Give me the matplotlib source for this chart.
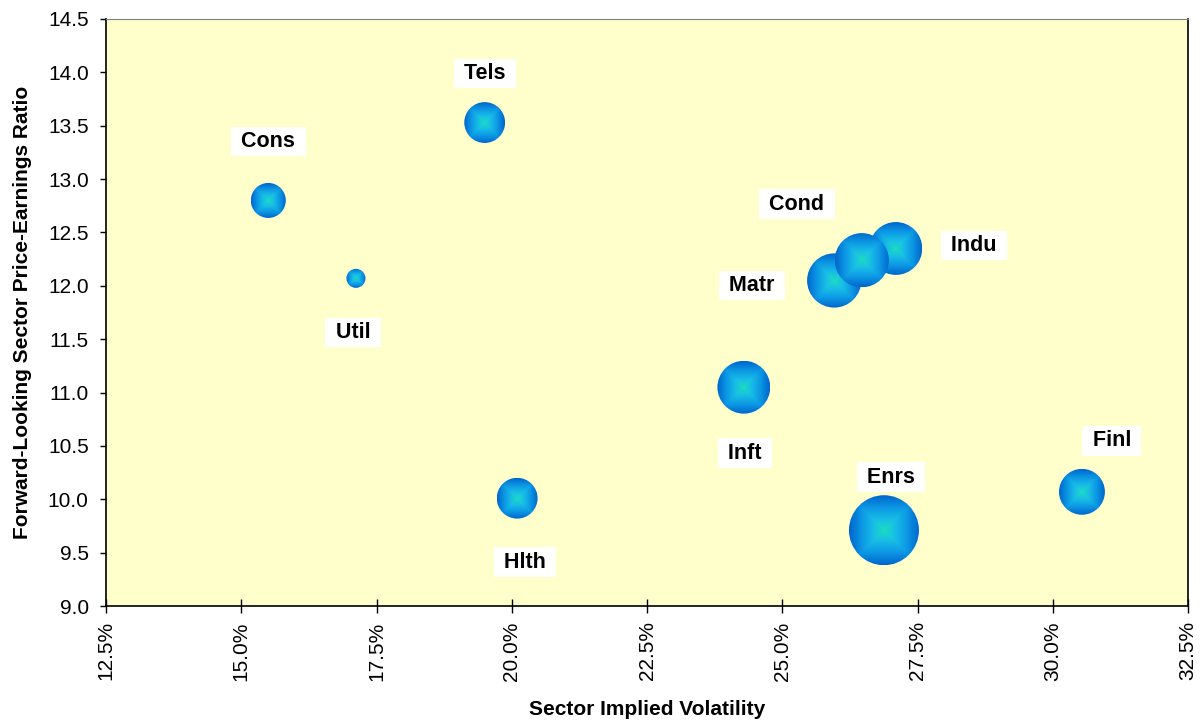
import numpy as np
import matplotlib
matplotlib.use('Agg')
import matplotlib.pyplot as plt
from matplotlib.colors import LinearSegmentedColormap
from matplotlib.patches import Ellipse
from matplotlib.ticker import FuncFormatter, MultipleLocator

plt.rcParams['font.family'] = ['Liberation Sans', 'DejaVu Sans']

# sector data
sectors = ['Cons', 'Util', 'Tels', 'Hlth', 'Inft', 'Enrs', 'Finl', 'Matr', 'Indu', 'Cond']
implied_vol = [15.5, 17.12, 19.5, 20.1, 24.29, 26.88, 30.54, 25.96, 27.10, 26.47]
fwd_pe = [12.80, 12.07, 13.53, 10.01, 11.05, 9.71, 10.07, 12.05, 12.35, 12.24]
bubble_size = [25, 7.4, 34, 34, 57, 100, 43, 60, 57, 60]

# label offsets from bubble centre, in pixels
label_offset = [(0, 59), (-3, -54), (0, 49), (8, -64), (1, -66),
                (7, 53), (30, 51), (-82, -5), (78, 3), (-65, 56)]

max_radius = 35  # px for the largest bubble

fig = plt.figure(figsize=(12.01, 7.21), dpi=100)
ax = fig.add_axes([106 / 1201, 1 - 606 / 721, (1188 - 106) / 1201, (606 - 19) / 721])
ax.set_xlim(12.5, 32.5)
ax.set_ylim(9.0, 14.5)
ax.set_autoscale_on(False)
ax.set_facecolor('#FFFFCC')

cmap = LinearSegmentedColormap.from_list(
    'bubble', [(0, '#1CDCC0'), (0.3, '#18BEE6'), (0.65, '#0C96E4'), (1, '#0066CC')])
g = np.linspace(-1, 1, 121)
gx, gy = np.meshgrid(g, g)
shade = np.maximum(np.abs(gx), np.abs(gy))

inv = ax.transData.inverted()
for i, (x, y, s) in enumerate(zip(implied_vol, fwd_pe, bubble_size)):
    r = max_radius * np.sqrt(s / 100)
    px, py = ax.transData.transform((x, y))
    x1, y1 = inv.transform((px + r, py + r))
    dx, dy = x1 - x, y1 - y
    im = ax.imshow(shade, cmap=cmap, extent=(x - dx, x + dx, y - dy, y + dy),
                   interpolation='bilinear', aspect='auto', zorder=2 + i * 0.01)
    clip = Ellipse((x, y), 2 * dx, 2 * dy, transform=ax.transData)
    im.set_clip_path(clip)

for name, x, y, off in zip(sectors, implied_vol, fwd_pe, label_offset):
    ax.annotate(' ' + name + ' ', (x, y), xytext=off, textcoords='offset pixels',
                ha='center', va='center', fontsize=15.5, fontweight='bold', zorder=5,
                bbox=dict(boxstyle='square,pad=0.2', fc='white', ec='none'))

ax.xaxis.set_major_locator(MultipleLocator(2.5))
ax.yaxis.set_major_locator(MultipleLocator(0.5))
ax.xaxis.set_major_formatter(FuncFormatter(lambda v, p: f'{v:.1f}%'))
ax.yaxis.set_major_formatter(FuncFormatter(lambda v, p: f'{v:.1f}'))
ax.tick_params(axis='x', direction='inout', length=10, width=1, labelsize=15,
               labelrotation=90, pad=6)
ax.tick_params(axis='y', direction='out', length=4.5, width=1, labelsize=15, pad=8)
for side in ['left', 'bottom', 'right']:
    ax.spines[side].set_color('black')
    ax.spines[side].set_linewidth(1.2)
ax.spines['top'].set_color('#808080')

ax.set_xlabel('Sector Implied Volatility', fontsize=15, fontweight='bold', labelpad=14)
ax.set_ylabel('Forward-Looking Sector Price-Earnings Ratio', fontsize=15,
              fontweight='bold', labelpad=11)

ax.set_xlim(12.5, 32.5)
ax.set_ylim(9.0, 14.5)
fig.savefig('out.png', dpi=100)
